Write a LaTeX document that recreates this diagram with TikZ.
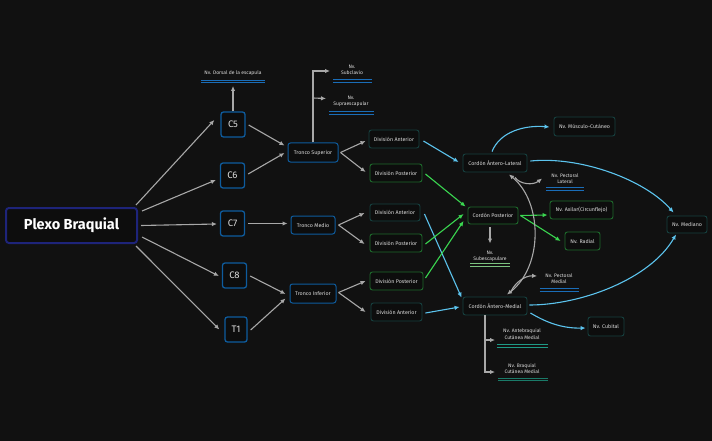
\documentclass[tikz,border=0pt]{standalone}
\usepackage{fontspec}
\setmainfont{Fira Sans}
\usetikzlibrary{arrows.meta,calc}
\definecolor{bg}{HTML}{111111}
\definecolor{nodefill}{HTML}{0D0D0D}
\definecolor{txt}{HTML}{DCDCDC}
\definecolor{plexoB}{HTML}{1E247A}
\definecolor{blueB}{HTML}{0E5C9E}
\definecolor{tealB}{HTML}{16403F}
\definecolor{greenB}{HTML}{1E6A2C}
\definecolor{grayA}{HTML}{A8A8A8}
\definecolor{blueA}{HTML}{5CC4EE}
\definecolor{greenA}{HTML}{3AD650}
\definecolor{ulBlue}{HTML}{1A6DB8}
\definecolor{ulGreen}{HTML}{7CC47F}
\definecolor{ulTeal}{HTML}{1F9A86}
\definecolor{ulTealD}{HTML}{1A7A68}
\begin{document}
\begin{tikzpicture}[x=1pt,y=-1pt,
  base/.style={rounded corners=2.5pt, fill=nodefill, text=txt, inner sep=0pt, align=center, line width=0.9pt, font=\fontsize{5.3}{6.5}\selectfont},
  cbox/.style={base, draw=blueB, line width=1.3pt, minimum width=24pt, minimum height=25pt, font=\fontsize{9.5}{10}\selectfont},
  tbox/.style={base, draw=blueB, line width=1pt},
  dabox/.style={base, draw=tealB},
  dpbox/.style={base, draw=greenB},
  leaf/.style={text=txt, inner sep=0pt, align=center, font=\fontsize{5}{6.3}\selectfont},
  ul/.style={draw=#1, line width=1.1pt},
  garrow/.style={draw=grayA, line width=1.1pt, -{Latex[length=5pt,width=4.5pt]}},
  gdarrow/.style={draw=grayA, line width=1.1pt, {Latex[length=5pt,width=4.5pt]}-{Latex[length=5pt,width=4.5pt]}},
  barrow/.style={draw=blueA, line width=1.1pt, -{Latex[length=5pt,width=4.5pt]}},
  grarrow/.style={draw=greenA, line width=1.1pt, -{Latex[length=5pt,width=4.5pt]}}
]
\useasboundingbox[fill=bg] (0,0) rectangle (712,441);

% main node
\node[base, draw=plexoB, line width=2pt, rounded corners=3pt, minimum width=131pt, minimum height=35pt,
      text=white, font=\fontsize{14.5}{16}\selectfont\bfseries] (plexo) at (71.5,225.5) {Plexo Braquial};

% roots
\node[cbox] (c5) at (233,124.5) {C5};
\node[cbox] (c6) at (232.5,175.5) {C6};
\node[cbox] (c7) at (232.5,223.5) {C7};
\node[cbox] (c8) at (234.5,275.5) {C8};
\node[cbox, minimum width=22pt] (t1) at (236,329.5) {T1};

% trunks
\node[tbox, minimum width=50pt, minimum height=19pt] (ts) at (313,152.5) {Tronco Superior};
\node[tbox, minimum width=44pt, minimum height=18pt] (tm) at (313,225) {Tronco Medio};
\node[tbox, minimum width=46pt, minimum height=19pt] (ti) at (313,293.5) {Tronco Inferior};

% divisions
\node[dabox, minimum width=50pt, minimum height=18pt] (da1) at (394,139) {División Anterior};
\node[dpbox, minimum width=52pt, minimum height=18pt] (dp1) at (396,173) {División Posterior};
\node[dabox, minimum width=50pt, minimum height=17pt] (da2) at (395,212.5) {División Anterior};
\node[dpbox, minimum width=52pt, minimum height=18pt] (dp2) at (396,243) {División Posterior};
\node[dpbox, minimum width=53pt, minimum height=18pt] (dp3) at (396.5,281) {División Posterior};
\node[dabox, minimum width=51pt, minimum height=18pt] (da3) at (396.5,312) {División Anterior};

% cords
\node[dabox, minimum width=64pt, minimum height=18pt] (cal) at (495,163) {Cordón Ántero-Lateral};
\node[dpbox, minimum width=50pt, minimum height=17pt] (cp) at (493,215.5) {Cordón Posterior};
\node[dabox, minimum width=64pt, minimum height=18pt] (cam) at (495,306) {Cordón Ántero-Medial};

% terminal nerves
\node[dabox, minimum width=61pt, minimum height=19pt] (mc) at (584.5,126.5) {Nv. Músculo-Cutáneo};
\node[dpbox, minimum width=63pt, minimum height=18pt] (ax) at (581.5,210) {Nv. Axilar(Circunflejo)};
\node[dpbox, minimum width=35pt, minimum height=18pt] (rad) at (582.5,241) {Nv. Radial};
\node[dabox, minimum width=40pt, minimum height=17pt] (med) at (687,224.5) {Nv. Mediano};
\node[dabox, minimum width=36pt, minimum height=19pt] (cub) at (606,326.5) {Nv. Cubital};

% leaf labels
\node[leaf] (dorsal) at (233,73) {Nv. Dorsal de la escapula};
\node[leaf] (subcl) at (352,70) {Nv.\\Subclavio};
\node[leaf] (supra) at (351,101) {Nv.\\Supraescapular};
\node[leaf] (pecl) at (565,178.5) {Nv. Pectoral\\Lateral};
\node[leaf] (subesc) at (490,256.5) {Nv.\\Subescapulare};
\node[leaf] (pecm) at (559,278.5) {Nv. Pectoral\\Medial};
\node[leaf] (antebr) at (522,334) {Nv. Antebraquial\\Cutánea Medial};
\node[leaf] (braq) at (522,368.5) {Nv. Braquial\\Cutánea Medial};

% underlines (double)
\foreach \n/\c/\dy/\dx/\w in {dorsal/ulBlue/8.5/-32/64, subcl/ulBlue/11/-19/39, supra/ulBlue/12/-22/45,
  pecl/ulBlue/10.5/-19/38, subesc/ulGreen/8.5/-20/40, pecm/ulBlue/11.5/-19.5/39,
  antebr/ulTeal/12/-25/51, braq/ulTealD/11/-24/50}{
  \draw[ul=\c] ($(\n)+(\dx,\dy-1.1)$) -- ++(\w,0);
  \draw[ul=\c] ($(\n)+(\dx,\dy+1.1)$) -- ++(\w,0);
}

% plexo -> roots
\draw[garrow] ($(plexo.north east)+(-2,-2)$) -- ($(c5.west)+(-6,-4.5)$);
\draw[garrow] ($(plexo.north east)+(4,4)$) -- ($(c6.west)+(-4,4.5)$);
\draw[garrow] ($(plexo.east)+(3,0)$) -- ($(c7.west)+(-3,0.5)$);
\draw[garrow] ($(plexo.east)+(4,11.5)$) -- ($(c8.west)+(-3,0.5)$);
\draw[garrow] ($(plexo.south east)+(-2,2)$) -- ($(t1.west)+(-5,0)$);

% roots -> trunks
\draw[garrow] ($(c5.east)+(3,0.5)$) -- ($(ts.west)+(-3,-7)$);
\draw[garrow] ($(c6.east)+(3,-1.5)$) -- ($(ts.west)+(-3,0.5)$);
\draw[garrow] ($(c7.east)+(3,0)$) -- ($(tm.west)+(-3,-1.5)$);
\draw[garrow] ($(c8.east)+(3,0.5)$) -- ($(ti.west)+(-4,0.5)$);
\draw[garrow] ($(t1.east)+(3,0.5)$) -- ($(ti.west)+(-4,5)$);

% C5 -> dorsal, trunk superior branches
\draw[garrow] (c5.north) -- ($(dorsal)+(0,13)$);
\draw[garrow] (ts.north) |- ($(subcl)+(-22,1)$);
\draw[garrow] ($(ts.north)+(0,-44.5)$) -- ($(supra)+(-25,-2.5)$);

% trunks -> divisions
\draw[garrow] ($(ts.east)+(2,0)$) -- ($(da1.west)+(-3,2)$);
\draw[garrow] ($(ts.east)+(2,0)$) -- ($(dp1.west)+(-4,-1)$);
\draw[garrow] ($(tm.east)+(3,0)$) -- ($(da2.west)+(-5,0.5)$);
\draw[garrow] ($(tm.east)+(3,0)$) -- ($(dp2.west)+(-5,1)$);
\draw[garrow] ($(ti.east)+(2,-1)$) -- ($(dp3.west)+(-4,0)$);
\draw[garrow] ($(ti.east)+(2,-1)$) -- ($(da3.west)+(-5,0)$);

% divisions -> cords
\draw[barrow] ($(da1.east)+(4,2)$) -- ($(cal.west)+(-4,-1)$);
\draw[barrow] ($(da2.east)+(4,1.5)$) -- ($(cam.north west)+(-1,1)$);
\draw[barrow] ($(da3.east)+(3,1)$) -- ($(cam.west)+(-3,1)$);
\draw[grarrow] ($(dp1.east)+(3,1)$) -- ($(cp.north west)+(-2,0)$);
\draw[grarrow] ($(dp2.east)+(3,1)$) -- ($(cp.west)+(-4,-1.5)$);
\draw[grarrow] ($(dp3.east)+(2,-3)$) -- ($(cp.west)+(-4,5.5)$);

% posterior cord branches
\draw[grarrow] ($(cp.east)+(2,0)$) -- ($(ax.west)+(-2,5)$);
\draw[grarrow] ($(cp.east)+(2,0)$) -- ($(rad.west)+(-4,0)$);
\draw[garrow] ($(cp.south)+(-3,3)$) -- ($(subesc)+(0,-13)$);

% lateral cord branches
\draw[barrow] ($(cal.north)+(-3,-2)$) .. controls ($(cal.north)+(5,-22)$) and ($(mc.west)+(-29,-1.5)$) .. ($(mc.west)+(-4,0.5)$);
\draw[barrow] ($(cal.east)+(3,-2)$) .. controls ($(cal.east)+(53,-7)$) and ($(med.north west)+(-22,-36)$) .. ($(med.north west)+(7,-3)$);
\draw[garrow] ($(cal.south)+(20,5)$) .. controls ($(cal.south)+(25,12)$) and ($(pecl)+(-32,7)$) .. ($(pecl)+(-23,0)$);

% medial cord branches
\draw[barrow] ($(cam.east)+(2,-1)$) .. controls ($(cam.east)+(53,-1)$) and ($(med.south)+(-37,46)$) .. ($(med.south)+(-11,1)$);
\draw[barrow] ($(cam.east)+(3,7)$) .. controls ($(cam.east)+(18,16)$) and ($(cub.west)+(-26,2)$) .. ($(cub.west)+(-2,1.5)$);
\draw[garrow] ($(cam.north)+(16,-5)$) .. controls ($(cam.north)+(20,-14)$) and ($(pecm)+(-34,-3)$) .. ($(pecm)+(-22,-2.5)$);
\draw[garrow] ($(cam.south)+(-10,0)$) |- ($(antebr)+(-27,6)$);
\draw[garrow] ($(cam.south)+(-10,0)$) |- ($(braq)+(-27,3.5)$);

% lateral <-> medial cord
\draw[gdarrow] ($(cal.south)+(14,2)$) .. controls ($(cal.south)+(48,30)$) and ($(cam.north)+(48,-30)$) .. ($(cam.north)+(12,-2)$);
\end{tikzpicture}
\end{document}
